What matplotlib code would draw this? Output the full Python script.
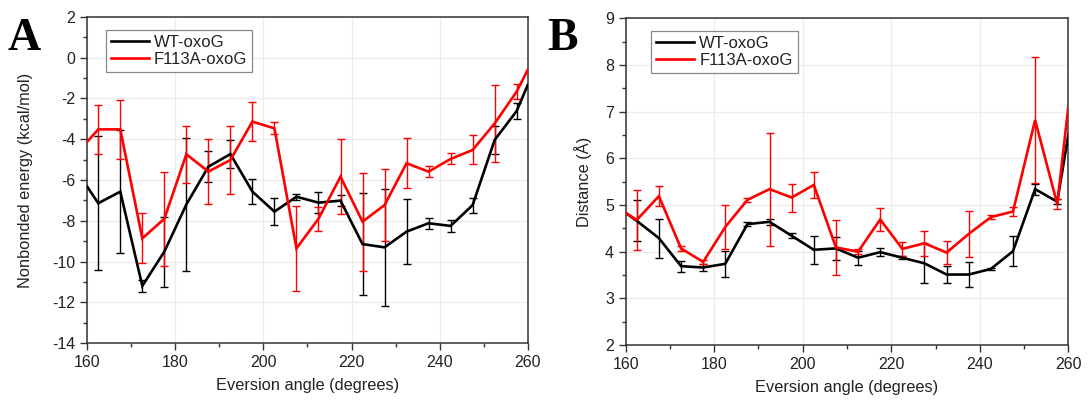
import matplotlib
matplotlib.use("Agg")
import matplotlib.pyplot as plt
from matplotlib.ticker import MultipleLocator
import numpy as np

plt.rcParams['font.family'] = ['Liberation Sans', 'DejaVu Sans']
plt.rcParams['axes.unicode_minus'] = False

# Eversion angles (degrees); end values sit on the axis limits
angle = [160, 162.5, 167.5, 172.5, 177.5, 182.5, 187.5, 192.5, 197.5, 202.5,
         207.5, 212.5, 217.5, 222.5, 227.5, 232.5, 237.5, 242.5, 247.5,
         252.5, 257.5, 260]

# Panel A: nonbonded energy (kcal/mol)
energy_wt = [-6.33, -7.14, -6.57, -11.19, -9.51, -7.2, -5.35, -4.73, -6.57,
             -7.55, -6.82, -7.11, -7.01, -9.14, -9.3, -8.53, -8.12, -8.25,
             -7.23, -4.04, -2.62, -1.35]
energy_wt_err = [3.29, 3.0, 0.3, 1.72, 3.25, 0.75, 0.67, 0.6, 0.65, 0.15,
                 0.5, 0.28, 2.5, 2.85, 1.6, 0.26, 0.3, 0.37, 0.7, 0.4]
energy_mut = [-4.12, -3.52, -3.52, -8.86, -7.9, -4.74, -5.59, -5.02, -3.14,
              -3.47, -9.35, -7.9, -5.84, -8.04, -7.23, -5.18, -5.59, -4.97,
              -4.53, -3.23, -1.67, -0.61]
energy_mut_err = [1.2, 1.45, 1.22, 2.3, 1.4, 1.6, 1.68, 0.95, 0.3, 2.1,
                  0.6, 1.85, 2.4, 1.75, 1.22, 0.27, 0.27, 0.71, 1.9, 0.35]

# Panel B: distance (Å)
dist_wt = [4.83, 4.66, 4.29, 3.69, 3.66, 3.74, 4.59, 4.64, 4.34, 4.04, 4.07,
           3.87, 3.99, 3.87, 3.75, 3.51, 3.51, 3.63, 4.01, 5.34, 5.07, 6.5]
dist_wt_err = [0.44, 0.42, 0.12, 0.08, 0.28, 0.04, 0.07, 0.05, 0.3, 0.24,
               0.15, 0.09, 0.03, 0.43, 0.18, 0.27, 0.03, 0.32, 0.12, 0.05]
dist_mut = [4.83, 4.68, 5.19, 4.07, 3.78, 4.53, 5.11, 5.34, 5.16, 5.43, 4.09,
            4.0, 4.69, 4.06, 4.18, 3.98, 4.38, 4.74, 4.86, 6.82, 5.02, 7.1]
dist_mut_err = [0.65, 0.22, 0.05, 0.05, 0.47, 0.05, 1.21, 0.3, 0.28, 0.58,
                0.05, 0.25, 0.15, 0.27, 0.25, 0.5, 0.04, 0.1, 1.35, 0.1]

labels = ["WT-oxoG", "F113A-oxoG"]
colors = ["black", "#ff0000"]

fig = plt.figure(figsize=(10.88, 4.08), dpi=100)
axA = fig.add_axes([0.0802, 0.1586, 0.4048, 0.8005])
axB = fig.add_axes([0.5751, 0.1544, 0.4068, 0.8007])

spine_col = "#333333"


def draw_panel(ax, series, ylim, ymajor, yminor, ylabel, legend_xy, ypad):
    x = np.array(angle)
    for (y, err), lab, col in zip(series, labels, colors):
        y = np.array(y)
        ax.errorbar(x[1:-1], y[1:-1], yerr=err, fmt='none', ecolor=col,
                    elinewidth=1.0, capsize=3, capthick=1.0, zorder=3)
        ax.plot(x, y, color=col, lw=1.9, label=lab, zorder=4,
                solid_joinstyle='miter')
    ax.set_xlim(160, 260)
    ax.set_ylim(*ylim)
    ax.xaxis.set_major_locator(MultipleLocator(20))
    ax.xaxis.set_minor_locator(MultipleLocator(10))
    ax.yaxis.set_major_locator(MultipleLocator(ymajor))
    ax.yaxis.set_minor_locator(MultipleLocator(yminor))
    ax.grid(True, which='major', color='#ebebeb', lw=0.8, zorder=0)
    ax.tick_params(which='both', direction='out', top=False, right=False,
                   colors=spine_col, labelcolor='#222222', labelsize=11.5)
    ax.tick_params(which='major', length=5, width=1.0)
    ax.tick_params(which='minor', length=3, width=1.0)
    for s in ax.spines.values():
        s.set_color(spine_col)
        s.set_linewidth(1.1)
    ax.set_xlabel("Eversion angle (degrees)", fontsize=11.8, color='#222222',
                  labelpad=6)
    ax.set_ylabel(ylabel, fontsize=11.8, color='#222222', labelpad=ypad)
    leg = ax.legend(loc='upper left', bbox_to_anchor=legend_xy,
                    borderaxespad=0, fontsize=12, handlelength=2.3,
                    handletextpad=0.3, labelspacing=0.15, borderpad=0.3,
                    fancybox=False, framealpha=1)
    leg.get_frame().set_edgecolor('#888888')
    leg.get_frame().set_linewidth(0.9)
    for t in leg.get_texts():
        t.set_color('#222222')


draw_panel(axA, [(energy_wt, energy_wt_err), (energy_mut, energy_mut_err)],
           (-14, 2), 2, 1, "Nonbonded energy (kcal/mol)", (0.042, 0.96), 14)
draw_panel(axB, [(dist_wt, dist_wt_err), (dist_mut, dist_mut_err)],
           (2, 9), 1, 0.5, "Distance (Å)", (0.057, 0.962), 9)

fig.text(0.007, 0.877, "A", family='Liberation Serif', weight='bold',
         fontsize=33, color='black')
fig.text(0.503, 0.877, "B", family='Liberation Serif', weight='bold',
         fontsize=33, color='black')

fig.savefig("out.png", dpi=100)
